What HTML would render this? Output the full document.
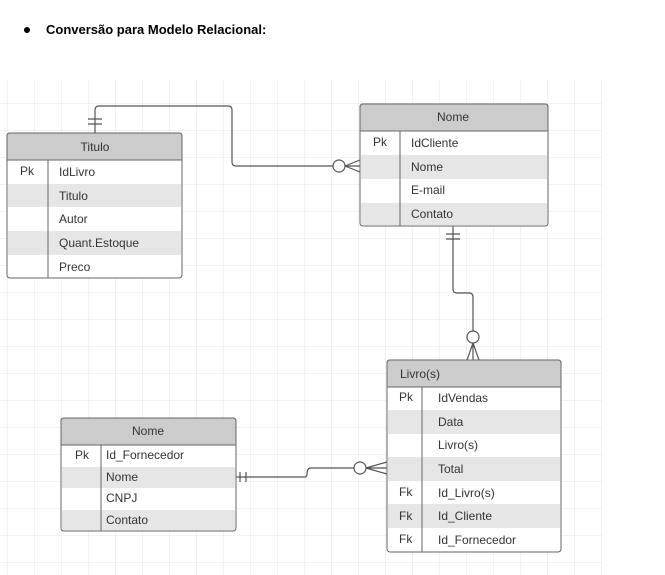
<!DOCTYPE html>
<html><head><meta charset="utf-8"><style>
body{margin:0;width:665px;height:575px;background:#fff;font-family:"Liberation Sans",Arial,sans-serif;overflow:hidden;position:relative}
.t{position:absolute;font-size:13px;font-weight:bold;color:#000;left:46px;top:22px}
.t:before{content:"";position:absolute;left:-22px;top:5px;width:6px;height:6px;border-radius:50%;background:#000}
svg{position:absolute;left:0;top:0}
text{font-family:"Liberation Sans",Arial,sans-serif;font-size:12px;fill:#333}
</style></head><body>
<div class="t">Conversão para Modelo Relacional:</div>
<svg width="665" height="575">
<defs><pattern id="g" x="7" y="103" width="27" height="27" patternUnits="userSpaceOnUse"><path d="M0 0H27M0 0V27" stroke="#e4e4e4" stroke-width="1" fill="none"/></pattern></defs>
<rect x="0" y="80" width="602" height="495" fill="url(#g)"/>
<g fill="none" stroke="#555" stroke-width="1.2">
<path d="M95 133V110Q95 106 99 106H228Q232 106 232 110V162Q232 166 236 166H333"/>
<path d="M88 119H102M88 124H102"/>
<circle cx="339" cy="166" r="6" fill="#fff"/>
<path d="M345 166L360 160M345 166L360 166M345 166L360 172"/>
<path d="M453 226V289Q453 293 457 293H469Q473 293 473 297V331"/>
<path d="M446 234H460M446 239H460"/>
<circle cx="473" cy="337" r="6" fill="#fff"/>
<path d="M473 343L467 360M473 343L473 360M473 343L479 360"/>
<path d="M236 477H305Q307 477 307 474Q307 468 311 468H354"/>
<path d="M240 472V482M246 472V482"/>
<circle cx="360" cy="468" r="6" fill="#fff"/>
<path d="M366 468L387 462M366 468L387 468M366 468L387 474"/>
</g>
<g>
<rect x="7" y="133" width="175" height="145" rx="3" fill="#fff" stroke="#666"/>
<path d="M10 133H179Q182 133 182 136V160H7V136Q7 133 10 133Z" fill="#cccccc" stroke="#666"/>
<rect x="8" y="184" width="173" height="23" fill="#e6e6e6"/>
<rect x="8" y="231" width="173" height="24" fill="#e6e6e6"/>
<path d="M48 160V278" stroke="#666"/>
<text x="95" y="151" text-anchor="middle">Titulo</text>
<text x="20" y="175">Pk</text>
<text x="59" y="176">IdLivro</text><text x="59" y="200">Titulo</text><text x="59" y="223">Autor</text><text x="59" y="247">Quant.Estoque</text><text x="59" y="271">Preco</text>
</g>
<g>
<rect x="360" y="104" width="188" height="122" rx="3" fill="#fff" stroke="#666"/>
<path d="M363 104H545Q548 104 548 107V131H360V107Q360 104 363 104Z" fill="#cccccc" stroke="#666"/>
<rect x="361" y="155" width="186" height="24" fill="#e6e6e6"/>
<rect x="361" y="203" width="186" height="22" fill="#e6e6e6"/>
<path d="M400 131V226" stroke="#666"/>
<text x="453" y="121" text-anchor="middle">Nome</text>
<text x="373" y="146">Pk</text>
<text x="411" y="147">IdCliente</text><text x="411" y="171">Nome</text><text x="411" y="194">E-mail</text><text x="411" y="218">Contato</text>
</g>
<g>
<rect x="387" y="360" width="174" height="192" rx="3" fill="#fff" stroke="#666"/>
<path d="M390 360H558Q561 360 561 363V387H387V363Q387 360 390 360Z" fill="#cccccc" stroke="#666"/>
<rect x="388" y="410" width="172" height="24" fill="#e6e6e6"/>
<rect x="388" y="457" width="172" height="24" fill="#e6e6e6"/>
<rect x="388" y="504" width="172" height="24" fill="#e6e6e6"/>
<path d="M422 387V552" stroke="#666"/>
<text x="400" y="378">Livro(s)</text>
<text x="399" y="401">Pk</text><text x="399" y="496">Fk</text><text x="399" y="520">Fk</text><text x="399" y="543">Fk</text>
<text x="438" y="402">IdVendas</text><text x="438" y="426">Data</text><text x="438" y="449">Livro(s)</text><text x="438" y="473">Total</text><text x="438" y="497">Id_Livro(s)</text><text x="438" y="520">Id_Cliente</text><text x="438" y="544">Id_Fornecedor</text>
</g>
<g>
<rect x="61" y="418" width="175" height="113" rx="3" fill="#fff" stroke="#666"/>
<path d="M64 418H233Q236 418 236 421V445H61V421Q61 418 64 418Z" fill="#cccccc" stroke="#666"/>
<rect x="62" y="467" width="173" height="21" fill="#e6e6e6"/>
<rect x="62" y="510" width="173" height="20" fill="#e6e6e6"/>
<path d="M101 445V531" stroke="#666"/>
<text x="148" y="435" text-anchor="middle">Nome</text>
<text x="75" y="459">Pk</text>
<text x="106" y="459">Id_Fornecedor</text><text x="106" y="481">Nome</text><text x="106" y="502">CNPJ</text><text x="106" y="524">Contato</text>
</g>
</svg>
</body></html>
